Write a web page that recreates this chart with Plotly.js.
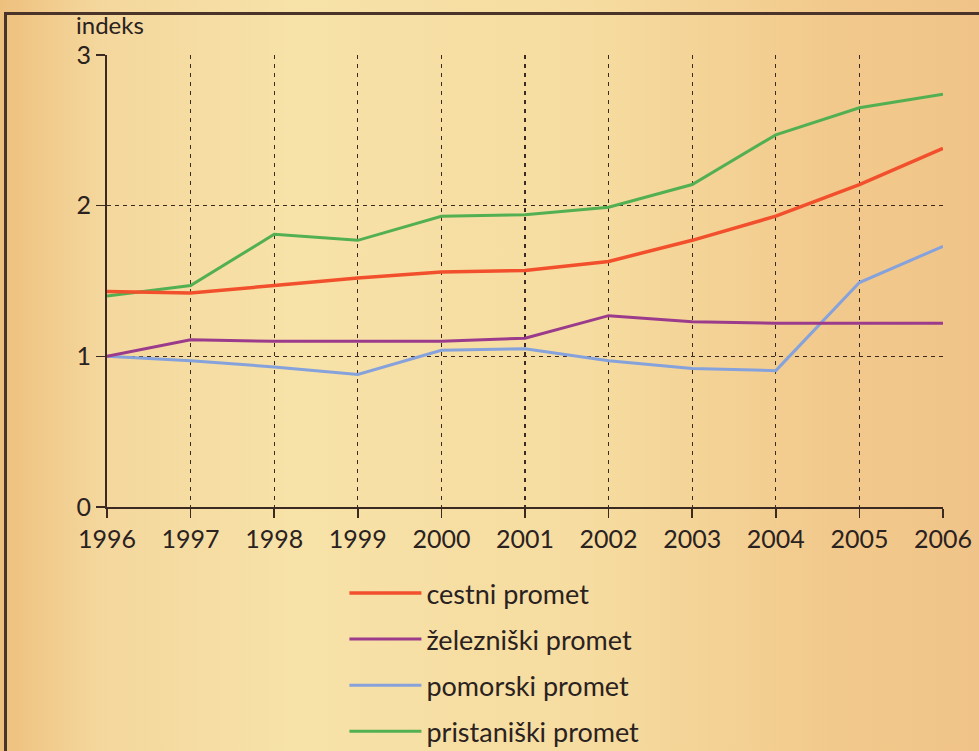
<!DOCTYPE html>
<html>
<head>
<meta charset="utf-8">
<script src="https://cdn.plot.ly/plotly-3.0.1.min.js"></script>
<style>
html,body{margin:0;padding:0;width:979px;height:751px;overflow:hidden;}
body{position:relative;
 background: linear-gradient(90deg,#eec07e 0%,#f4d79c 10%,#f7e2a8 30%,#f6dca0 60%,#f2c98c 85%,#f0c488 100%);}
#frame{position:absolute;left:4px;top:12px;width:975px;height:739px;border-left:3px solid #4a3328;border-top:3px solid #4a3328;box-sizing:border-box;}
#chart{position:absolute;left:0;top:0;width:979px;height:751px;}
</style>
</head>
<body>
<div id="frame"></div>
<div id="chart"></div>
<script>
var years = [1996,1997,1998,1999,2000,2001,2002,2003,2004,2005,2006];
var cestni = [1.43,1.42,1.47,1.52,1.56,1.57,1.63,1.77,1.93,2.14,2.38];
var zelezniski = [1.00,1.11,1.10,1.10,1.10,1.12,1.27,1.23,1.22,1.22,1.22];
var pomorski = [1.00,0.97,0.93,0.88,1.04,1.05,0.97,0.92,0.905,1.49,1.73];
var pristaniski = [1.40,1.47,1.81,1.77,1.93,1.94,1.99,2.14,2.47,2.65,2.74];
var names = ['cestni promet','železniški promet','pomorski promet','pristaniški promet'];
var colors = ['#f2502c','#9b3b8c','#85a2dc','#52b052'];
var series = [cestni, zelezniski, pomorski, pristaniski];
var widths = [3.5,3,3,3];

var order = [3,2,1,0];
var traces = order.map(function(i){
  return {x: years, y: series[i], type:'scatter', mode:'lines', name: names[i],
    legendgroup: 'g'+i, legendrank: i+1,
    line:{color:colors[i], width:widths[i]}};
});

var font = 'Lato, "Open Sans", sans-serif';
var ink = '#2a2220';
var layout = {
  width:979, height:751,
  margin:{l:107, r:36, t:55, b:244, autoexpand:false},
  paper_bgcolor:'rgba(0,0,0,0)',
  plot_bgcolor:'rgba(0,0,0,0)',
  font:{family:font, color:ink, size:24},
  showlegend:true,
  legend:{x:0.284, y:-0.137, xanchor:'left', yanchor:'top', bgcolor:'rgba(0,0,0,0)',
    itemwidth:72,
    font:{size:27, family:font, color:ink}, traceorder:'grouped', tracegroupgap:8},
  xaxis:{range:[1996,2006], tickvals:years, ticktext:years.map(String),
    showline:true, linecolor:'#3a2a22', linewidth:2,
    ticks:'outside', ticklen:9, tickcolor:'#3a2a22', tickwidth:1.5,
    showgrid:true, gridcolor:'#3a2a22', gridwidth:1.3, griddash:'4px,5px',
    zeroline:false, tickfont:{size:25, family:font, color:ink}, fixedrange:true},
  yaxis:{range:[0,3], tickvals:[0,1,2,3], showline:true, linecolor:'#3a2a22', linewidth:2,
    ticks:'outside', ticklen:9, tickcolor:'#3a2a22', tickwidth:1.5,
    showgrid:true, gridcolor:'#3a2a22', gridwidth:1.3, griddash:'4px,4px',
    zeroline:false, tickfont:{size:25, family:font, color:ink}, fixedrange:true},
  annotations:[{text:'indeks', xref:'paper', yref:'paper', x:-0.04, y:1.0, xanchor:'left', yanchor:'bottom',
    yshift:14, showarrow:false, font:{size:24, family:font, color:ink}}]
};
Plotly.newPlot('chart', traces, layout, {displayModeBar:false, staticPlot:true});
</script>
</body>
</html>
